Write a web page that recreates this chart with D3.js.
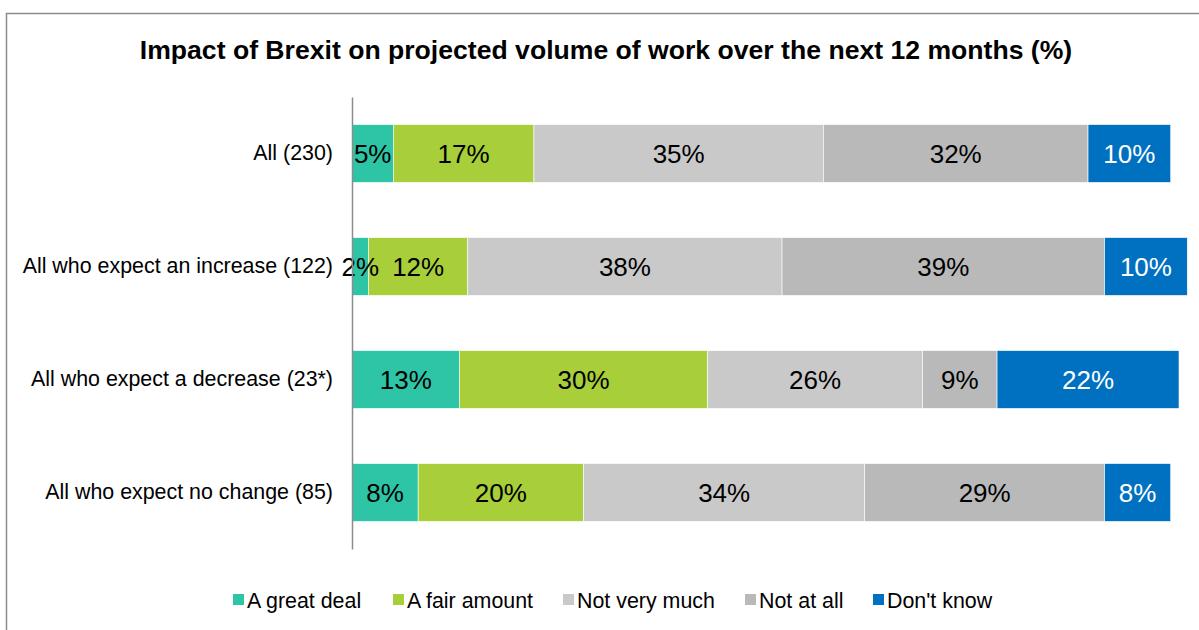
<!DOCTYPE html>
<html>
<head>
<meta charset="utf-8">
<script src="https://cdn.jsdelivr.net/npm/d3@7"></script>
<style>
  html, body { margin: 0; padding: 0; background: #fff; }
  svg { display: block; font-family: "Liberation Sans", Arial, sans-serif; }
</style>
</head>
<body>
<svg id="chart" width="1199" height="630"></svg>
<script>
// Survey groups (rows) and response categories (stack order)
const groups = [
  "All (230)",
  "All who expect an increase (122)",
  "All who expect a decrease (23*)",
  "All who expect no change (85)"
];
const responses = ["A great deal", "A fair amount", "Not very much", "Not at all", "Don't know"];

// Percentages per response, one entry per group
const greatDeal   = [5, 2, 13, 8];
const fairAmount  = [17, 12, 30, 20];
const notVeryMuch = [35, 38, 26, 34];
const notAtAll    = [32, 39, 9, 29];
const dontKnow    = [10, 10, 22, 8];

const colors = ["#2EC4A6", "#A8CE3A", "#C9C9C9", "#B9B9B9", "#0070C0"];
const labelColors = ["#000", "#000", "#000", "#000", "#fff"];

const title = "Impact of Brexit on projected volume of work over the next 12 months (%)";

const rows = groups.map((g, i) => ({
  group: g,
  "A great deal": greatDeal[i],
  "A fair amount": fairAmount[i],
  "Not very much": notVeryMuch[i],
  "Not at all": notAtAll[i],
  "Don't know": dontKnow[i]
}));

const svg = d3.select("#chart");

// outer frame
svg.append("rect")
  .attr("x", 6.5).attr("y", 13.5)
  .attr("width", 1300).attr("height", 700)
  .attr("fill", "none").attr("stroke", "#8c8c8c").attr("stroke-width", 1.5);

const x = d3.scaleLinear().domain([0, 100]).range([352, 1179]);
const y = d3.scaleBand().domain(groups).range([97, 549])
  .paddingInner(0.488).paddingOuter(0.244);
const color = d3.scaleOrdinal().domain(responses).range(colors);
const textColor = d3.scaleOrdinal().domain(responses).range(labelColors);

const series = d3.stack().keys(responses)(rows);

// title
svg.append("text")
  .attr("x", 606).attr("y", 59)
  .attr("text-anchor", "middle")
  .attr("font-size", 26.6).attr("font-weight", "bold")
  .attr("fill", "#000")
  .text(title);

// stacked segments
const layer = svg.append("g").selectAll("g").data(series).join("g")
  .attr("fill", d => color(d.key));

layer.selectAll("rect").data(d => d).join("rect")
  .attr("x", d => x(d[0]))
  .attr("y", d => y(d.data.group))
  .attr("width", d => x(d[1]) - x(d[0]))
  .attr("height", y.bandwidth())
  .attr("stroke", "#fff").attr("stroke-width", 0.6);

// value labels
const labels = svg.append("g").selectAll("g").data(series).join("g")
  .attr("fill", d => textColor(d.key));

labels.selectAll("text").data(d => d).join("text")
  .attr("x", d => (x(d[0]) + x(d[1])) / 2)
  .attr("y", d => y(d.data.group) + y.bandwidth() / 2)
  .attr("dy", "0.37em")
  .attr("text-anchor", "middle")
  .attr("font-size", 26)
  .text(d => (d[1] - d[0]) + "%");

// category axis
const yAxis = svg.append("g")
  .attr("transform", `translate(${x(0)},0)`)
  .call(d3.axisLeft(y).tickSize(0).tickPadding(19).tickSizeOuter(0));
yAxis.select(".domain").attr("stroke", "#8c8c8c").attr("stroke-width", 1.5);
yAxis.selectAll("text")
  .attr("font-size", 21.4).attr("fill", "#000")
  .attr("font-family", "Liberation Sans, Arial, sans-serif");

// legend
const legendX = [233, 393, 563, 745, 873];
const legend = svg.append("g").selectAll("g").data(responses).join("g")
  .attr("transform", (d, i) => `translate(${legendX[i]},600)`);
legend.append("rect")
  .attr("x", 0).attr("y", -6).attr("width", 11).attr("height", 11)
  .attr("fill", d => color(d));
legend.append("text")
  .attr("x", 14).attr("y", 0).attr("dy", "0.36em")
  .attr("font-size", 21.4).attr("fill", "#000")
  .text(d => d);
</script>
</body>
</html>
